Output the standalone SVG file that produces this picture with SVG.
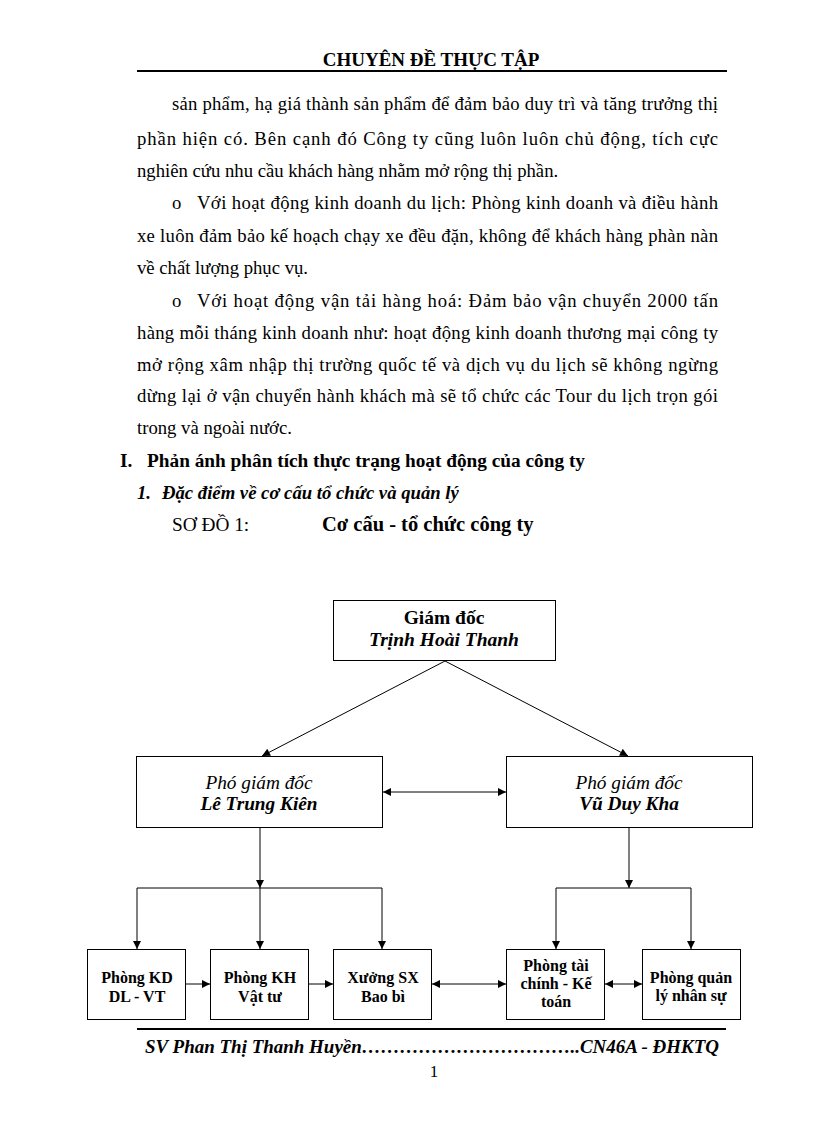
<svg xmlns="http://www.w3.org/2000/svg" width="816" height="1123" viewBox="0 0 816 1123">
<style>
.t{font-family:"Liberation Serif","Times New Roman",serif;font-size:18.7px;fill:#000}
.b{font-weight:bold}
.i{font-style:italic}
.box{fill:#fff;stroke:#000;stroke-width:1}
.ln{stroke:#000;stroke-width:1;fill:none}
.c{text-anchor:middle}
.s16{font-size:16px;font-weight:bold}
.s19{font-size:19.3px}
</style>
<defs>
<marker id="ah" viewBox="0 0 10 10" refX="10" refY="5" markerWidth="9" markerHeight="8" markerUnits="userSpaceOnUse" orient="auto-start-reverse">
<path d="M0,0 L10,5 L0,10 z" fill="#000"/>
</marker>
</defs>
<rect width="816" height="1123" fill="#fff"/>
<g id="header">
<text class="t b c" x="431" y="66" style="font-size:19px">CHUYÊN ĐỀ THỰC TẬP</text>
<line x1="137" y1="71" x2="727" y2="71" stroke="#000" stroke-width="2"/>
</g>
<g id="body">
<text class="t" x="172" y="110" textLength="546" lengthAdjust="spacing">sản phẩm, hạ giá thành sản phẩm để đảm bảo duy trì và tăng trưởng thị</text>
<text class="t" x="137" y="145" textLength="581" lengthAdjust="spacing">phần hiện có. Bên cạnh đó Công ty cũng luôn luôn chủ động, tích cực</text>
<text class="t" x="137" y="177">nghiên  cứu nhu cầu khách hàng nhằm mở rộng thị phần.</text>
<text class="t" x="172" y="209">o</text>
<text class="t" x="197" y="209" textLength="521" lengthAdjust="spacing">Với hoạt động kinh doanh du lịch: Phòng kinh doanh và điều hành</text>
<text class="t" x="137" y="242" textLength="581" lengthAdjust="spacing">xe luôn đảm bảo kế hoạch chạy xe đều đặn, không để khách hàng phàn nàn</text>
<text class="t" x="137" y="274">về chất lượng phục vụ.</text>
<text class="t" x="172" y="307">o</text>
<text class="t" x="197" y="307" textLength="521" lengthAdjust="spacing">Với hoạt động vận tải hàng hoá: Đảm bảo vận chuyển 2000 tấn</text>
<text class="t" x="137" y="339" textLength="581" lengthAdjust="spacing">hàng mỗi tháng kinh doanh như: hoạt động kinh doanh thương mại công ty</text>
<text class="t" x="137" y="371" textLength="581" lengthAdjust="spacing">mở rộng xâm nhập thị trường quốc tế và dịch vụ du lịch sẽ không ngừng</text>
<text class="t" x="137" y="402" textLength="581" lengthAdjust="spacing">dừng lại ở vận chuyển hành khách mà sẽ tổ chức các Tour du lịch trọn gói</text>
<text class="t" x="137" y="434">trong và ngoài nước.</text>
<text class="t b s19" x="120" y="467">I.</text>
<text class="t b s19" x="147" y="467">Phản ánh phân tích thực trạng hoạt động của công ty</text>
<text class="t b i" x="137" y="499">1.</text>
<text class="t b i" x="162" y="499">Đặc điểm về cơ cấu tổ chức và quản lý</text>
<text class="t" x="172" y="531" style="font-size:19.3px">SƠ ĐỒ 1:</text>
<text class="t b" x="322" y="531" style="font-size:20.5px">Cơ cấu - tổ chức công ty</text>
</g>
<g id="connectors">
<line class="ln" x1="445" y1="661" x2="262" y2="756" marker-end="url(#ah)"/>
<line class="ln" x1="445" y1="661" x2="628" y2="756" marker-end="url(#ah)"/>
<line class="ln" x1="383" y1="792" x2="506" y2="792" marker-start="url(#ah)" marker-end="url(#ah)"/>
<line class="ln" x1="260" y1="828" x2="260" y2="888" marker-end="url(#ah)"/>
<line class="ln" x1="137" y1="888" x2="382" y2="888"/>
<line class="ln" x1="137" y1="888" x2="137" y2="949" marker-end="url(#ah)"/>
<line class="ln" x1="260" y1="888" x2="260" y2="949" marker-end="url(#ah)"/>
<line class="ln" x1="382" y1="888" x2="382" y2="949" marker-end="url(#ah)"/>
<line class="ln" x1="629" y1="828" x2="629" y2="888" marker-end="url(#ah)"/>
<line class="ln" x1="556" y1="888" x2="691" y2="888"/>
<line class="ln" x1="556" y1="888" x2="556" y2="949" marker-end="url(#ah)"/>
<line class="ln" x1="691" y1="888" x2="691" y2="949" marker-end="url(#ah)"/>
<line class="ln" x1="186" y1="984" x2="210" y2="984" marker-end="url(#ah)"/>
<line class="ln" x1="309" y1="984" x2="333" y2="984" marker-end="url(#ah)"/>
<line class="ln" x1="432" y1="984" x2="506" y2="984" marker-start="url(#ah)" marker-end="url(#ah)"/>
<line class="ln" x1="605" y1="984" x2="642" y2="984" marker-start="url(#ah)" marker-end="url(#ah)"/>
</g>
<g id="giam-doc">
<rect class="box" x="333.5" y="600.5" width="222" height="60"/>
<text class="t b c" x="444" y="624" style="font-size:19.5px">Giám đốc</text>
<text class="t b i c" x="444" y="646" style="font-size:19.5px">Trịnh Hoài Thanh</text>
</g>
<g id="pgd-le-trung-kien">
<rect class="box" x="136.5" y="756.5" width="246" height="71"/>
<text class="t i c s19" x="259" y="789">Phó giám đốc</text>
<text class="t b i c s19" x="259" y="810">Lê Trung Kiên</text>
</g>
<g id="pgd-vu-duy-kha">
<rect class="box" x="506.5" y="756.5" width="246" height="71"/>
<text class="t i c s19" x="629" y="789">Phó giám đốc</text>
<text class="t b i c s19" x="629" y="810">Vũ Duy Kha</text>
</g>
<g id="phong-kd">
<rect class="box" x="87.5" y="949.5" width="98" height="70"/>
<text class="t c s16" x="137" y="983">Phòng KD</text>
<text class="t c s16" x="137" y="1002">DL - VT</text>
</g>
<g id="phong-kh">
<rect class="box" x="210.5" y="949.5" width="98" height="70"/>
<text class="t c s16" x="260" y="983">Phòng  KH</text>
<text class="t c s16" x="260" y="1002">Vật tư</text>
</g>
<g id="xuong-sx">
<rect class="box" x="333.5" y="949.5" width="98" height="70"/>
<text class="t c s16" x="383" y="983">Xưởng SX</text>
<text class="t c s16" x="383" y="1002">Bao bì</text>
</g>
<g id="phong-tai-chinh">
<rect class="box" x="506.5" y="949.5" width="98" height="70"/>
<text class="t c s16" x="556" y="971">Phòng tài</text>
<text class="t c s16" x="556" y="989">chính  -  Kế</text>
<text class="t c s16" x="556" y="1007">toán</text>
</g>
<g id="phong-quan-ly">
<rect class="box" x="642.5" y="949.5" width="98" height="70"/>
<text class="t c s16" x="691" y="983">Phòng  quản</text>
<text class="t c s16" x="691" y="1001">lý nhân  sự</text>
</g>
<g id="footer">
<line x1="137" y1="1029" x2="726" y2="1029" stroke="#000" stroke-width="2"/>
<text class="t b i" x="145" y="1053" textLength="574" lengthAdjust="spacingAndGlyphs">SV Phan Thị Thanh Huyền……………………………..CN46A - ĐHKTQ</text>
<text class="t c" x="434" y="1077" style="font-size:17px">1</text>
</g>
</svg>
